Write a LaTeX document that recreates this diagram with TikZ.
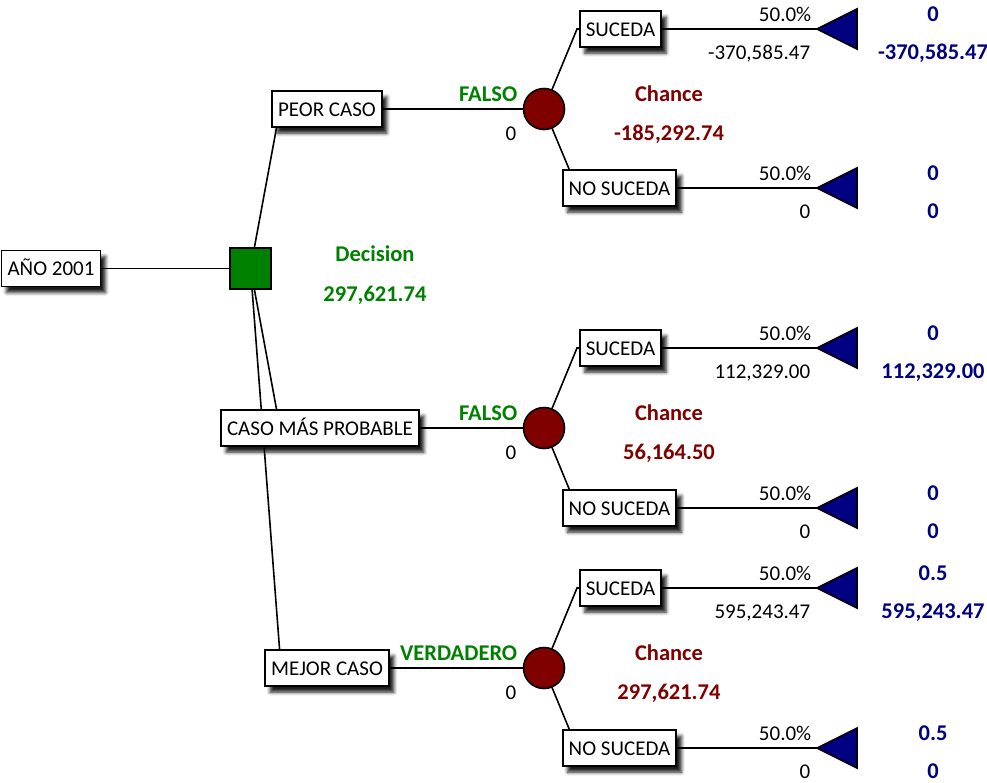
\documentclass[tikz,border=0pt]{standalone}
\usepackage{fontspec}
\setmainfont{Carlito}
\usetikzlibrary{backgrounds,shadows.blur}
\definecolor{decgreen}{RGB}{0,128,0}
\definecolor{chred}{RGB}{128,0,0}
\definecolor{endnavy}{RGB}{0,0,128}
\begin{document}
\begin{tikzpicture}[x=1pt,y=-1pt,
  font=\fontsize{21}{25}\selectfont,
  line width=1.6pt,
  branchbox/.style={draw=black, fill=white, line width=1.6pt, inner xsep=6pt, inner ysep=0pt,
    text height=14pt, text depth=0pt, minimum height=36pt,
    blur shadow={shadow xshift=5pt, shadow yshift=-6pt, shadow blur radius=3.5pt, shadow opacity=90}},
  decnode/.style={draw=black, fill=decgreen, rectangle, minimum size=41pt, inner sep=0pt},
  chnode/.style={draw=black, fill=chred, circle, minimum size=41pt, inner sep=0pt},
  endtri/.style={draw=black, fill=endnavy, line width=1.6pt, line join=miter},
  link/.style={draw=black, line width=1.6pt},
  txt/.style={inner sep=0pt},
  boldtxt/.style={txt, font=\fontsize{22.5}{26}\selectfont\bfseries},
  bgreen/.style={boldtxt, text=decgreen},
  bred/.style={boldtxt, text=chred},
  bnavy/.style={boldtxt, text=endnavy},
]
\useasboundingbox (0,0) rectangle (987,782);

% root and decision
\node[branchbox] (root) at (51,268.5) {AÑO 2001};
\node[decnode] (dec) at (250.5,268.5) {};
\node[bgreen, anchor=base] (declbl) at (375,261) {Decision};
\node[bgreen, anchor=base] (decval) at (375,301) {297,621.74};

% decision branches
\node[branchbox] (b1) at (327,109) {PEOR CASO};
\node[branchbox] (b2) at (320,428) {CASO MÁS PROBABLE};
\node[branchbox] (b3) at (327,668) {MEJOR CASO};
\coordinate (b1s) at (280,109);
\coordinate (b2s) at (280,428);
\coordinate (b3s) at (281,668);

\node[bgreen, anchor=base east] (b1lbl) at (518,101) {FALSO};
\node[txt, anchor=base] (b1val) at (511,140) {0};
\node[bgreen, anchor=base east] (b2lbl) at (518,420) {FALSO};
\node[txt, anchor=base] (b2val) at (511,459) {0};
\node[bgreen, anchor=base east] (b3lbl) at (518,660) {VERDADERO};
\node[txt, anchor=base] (b3val) at (511,699) {0};

% chance nodes
\node[chnode] (c1) at (544,109) {};
\node[chnode] (c2) at (544,428) {};
\node[chnode] (c3) at (544,668) {};
\node[bred, anchor=base] (c1lbl) at (669,101) {Chance};
\node[bred, anchor=base] (c1val) at (669,140) {-185,292.74};
\node[bred, anchor=base] (c2lbl) at (669,420) {Chance};
\node[bred, anchor=base] (c2val) at (669,459) {56,164.50};
\node[bred, anchor=base] (c3lbl) at (669,660) {Chance};
\node[bred, anchor=base] (c3val) at (669,699) {297,621.74};

% outcome branches: name, row, box centre x, label, value, end prob, end value
\foreach \n/\r/\bx/\bt/\v/\p/\ev in {
  11/29/620.5/SUCEDA/{-370,585.47}/0/{-370,585.47},
  12/188/619.5/NO SUCEDA/0/0/0,
  21/348/620.5/SUCEDA/{112,329.00}/0/{112,329.00},
  22/508/619.5/NO SUCEDA/0/0/0,
  31/588/620.5/SUCEDA/{595,243.47}/0.5/{595,243.47},
  32/748/619.5/NO SUCEDA/0/0.5/0} {
  \node[branchbox] (o\n) at (\bx,\r) {\bt};
  \coordinate (o\n s) at (577,\r);
  \coordinate (t\n) at (817,\r);
  \node[txt, anchor=base east] (o\n p) at (812,\r-8) {50.0\%};
  \node[txt, anchor=base east] (o\n v) at (811,\r+30) {\v};
  \node[bnavy, anchor=base] (t\n p) at (933,\r-8) {\p};
  \node[bnavy, anchor=base] (t\n v) at (933,\r+30) {\ev};
  \draw[endtri] (t\n) -- ++(40,-20) -- ++(0,40) -- cycle;
}

% connectors, drawn beneath the nodes
\begin{scope}[on background layer]
  \draw[link] (root.east) -- (dec.west);
  \draw[link] (dec.center) -- (b1s) -- (c1.center);
  \draw[link] (dec.center) -- (b2s) -- (c2.center);
  \draw[link] (dec.center) -- (b3s) -- (c3.center);
  \draw[link] (c1.center) -- (o11s) -- (t11);
  \draw[link] (c1.center) -- (o12s) -- (t12);
  \draw[link] (c2.center) -- (o21s) -- (t21);
  \draw[link] (c2.center) -- (o22s) -- (t22);
  \draw[link] (c3.center) -- (o31s) -- (t31);
  \draw[link] (c3.center) -- (o32s) -- (t32);
\end{scope}
\end{tikzpicture}
\end{document}
